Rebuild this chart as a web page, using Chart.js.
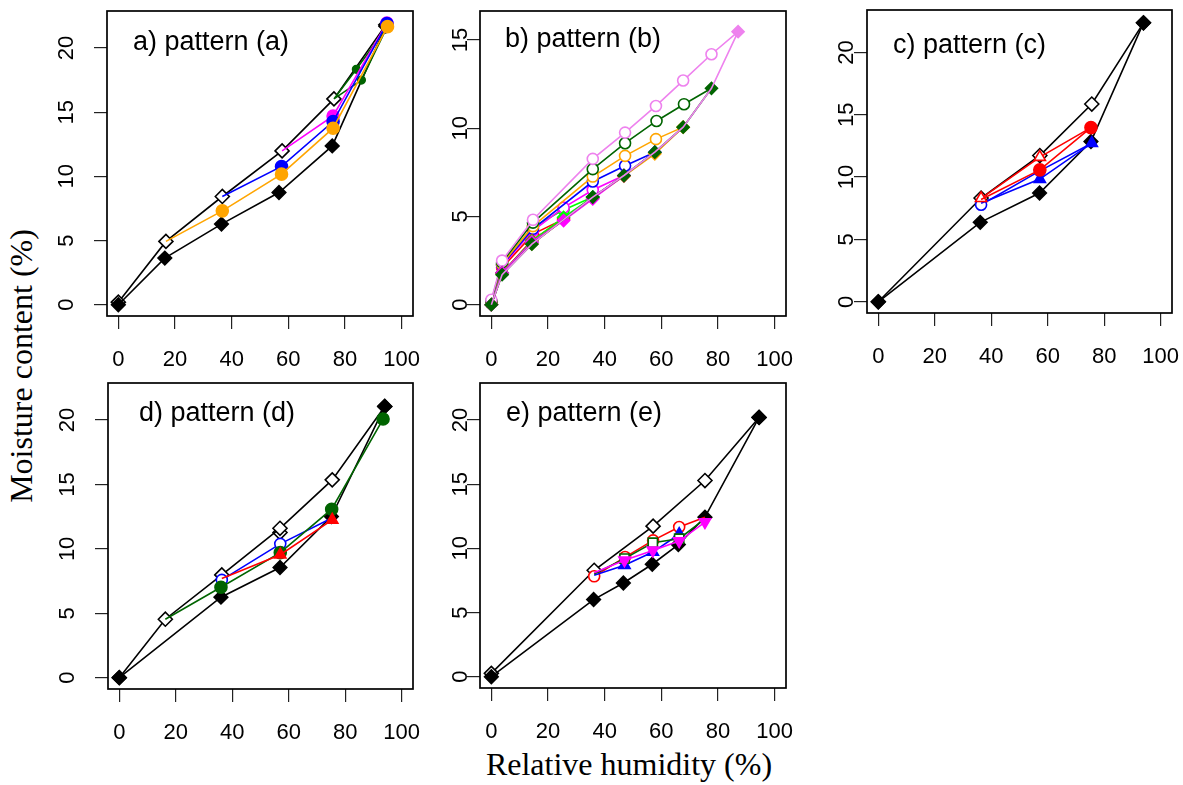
<!DOCTYPE html>
<html><head><meta charset="utf-8">
<script src="https://cdn.jsdelivr.net/npm/chart.js@4.4.1/dist/chart.umd.min.js"></script>
<style>
html,body{margin:0;padding:0;background:#fff;width:1183px;height:785px;overflow:hidden;position:relative}
.ttl{position:absolute;font-family:'Liberation Serif','Times New Roman',serif;font-size:32px;line-height:32px;white-space:nowrap;color:#000}
#ytitle{left:21px;top:366px;transform:translate(-50%,-50%) rotate(-90deg)}
#xtitle{left:629px;top:748px;transform:translateX(-50%)}
</style></head><body>
<div id="ytitle" class="ttl">Moisture content (%)</div>
<div id="xtitle" class="ttl">Relative humidity (%)</div>
<script>
// ---- tick labels ----
const xTicks = [0, 20, 40, 60, 80, 100];
const yTicks20 = [0, 5, 10, 15, 20];
const yTicks15 = [0, 5, 10, 15];
const panelTitles = ['a) pattern (a)', 'b) pattern (b)', 'c) pattern (c)', 'd) pattern (d)', 'e) pattern (e)'];

// ---- panel a : [RH %, moisture %] ----
const aAdsBlack = [[0,0],[16.4,3.63],[36.4,6.28],[56.7,8.74],[75.5,12.37],[94.4,21.7]];
const aDesBlack = [[94.4,21.8],[76.1,16.03],[57.8,11.98],[36.7,8.43],[16.8,4.93],[0,0.2]];
const aOrange = [[16.8,4.93],[36.7,7.31],[57.6,10.17],[75.8,13.75],[95,21.66]];
const aBlue = [[36.7,8.43],[57.6,10.77],[75.8,14.27],[94.8,21.9]];
const aMagenta = [[57.8,11.98],[75.8,14.7],[94.8,21.95]];
const aGreen = [[76.1,16.03],[85.8,17.5],[95,21.7],[84,18.34],[76.1,16.03]];

// ---- panel b ----
const bGreenAds = [[0,0],[3.8,1.7],[14.3,3.43],[35.8,6.1],[46.8,7.32],[57.7,8.64],[67.7,10.06],[77.7,12.26]];
const bVioletAds = [[0,0],[3.8,1.7],[14.3,3.43],[35.8,6.1],[46.8,7.32],[57.7,8.64],[67.7,10.06],[77.7,12.26],[87.1,15.47]];
const bOrangeAds = [[0,0],[3.8,1.75],[14.3,3.45],[35.8,6.05],[46.8,7.28],[57.7,8.55],[67.7,10.06]];
const bBlueAds = [[0,0],[3.8,1.8],[14.3,3.5],[35.8,6.1],[46.8,7.3],[57.7,8.64]];
const bMagentaAds = [[0,0],[3.8,1.8],[14.3,3.55],[25.5,4.77],[35.8,6.0],[46.8,7.32]];
const bLimeAds = [[0,0],[3.8,1.8],[14.3,3.6],[25.5,4.95],[35.8,6.1]];
const bRedAds = [[0,0],[3.8,1.8],[14.3,3.65],[25.5,4.85]];
const bVioletDes = [[87.1,15.47],[77.7,14.19],[67.7,12.7],[58.1,11.26],[47.2,9.75],[35.8,8.26],[14.7,4.81],[3.8,2.5],[0,0.28]];
const bGreenDes = [[77.7,12.26],[68,11.36],[58.3,10.41],[47.2,9.15],[35.8,7.68],[14.7,4.65],[3.8,2.4],[0,0.2]];
const bOrangeDes = [[67.7,10.06],[58.1,9.38],[47.2,8.43],[35.8,7.26],[14.7,4.45],[3.8,2.3],[0,0.1]];
const bBlueDes = [[57.7,8.64],[47.2,7.87],[35.8,6.98],[14.7,4.3],[3.8,2.25],[0,0.1]];
const bMagentaDes = [[46.8,7.32],[35.8,6.5],[25.5,5.5],[14.7,4.2],[3.8,2.2],[0,0.1]];
const bLimeDes = [[35.8,6.1],[25.5,5.37],[14.7,4.4],[3.8,2.3],[0,0.15]];
const bRedDes = [[25.5,4.85],[14.7,4.0],[3.8,2.1],[0,0.1]];

// ---- panel c ----
const cAdsBlack = [[0,0],[36.1,6.37],[57.1,8.72],[75.3,12.85],[93.9,22.37]];
const cDesBlack = [[93.9,22.37],[75.6,15.86],[57.2,11.73],[36.4,8.32],[0,0]];
const cRedUp = [[36.4,8.2],[57.2,10.58],[75.3,13.97]];
const cRedDown = [[75.3,13.97],[57.2,11.6],[36.4,8.3]];
const cBlueUp = [[36.4,7.9],[57.2,9.84],[75.6,12.72]];
const cBlueDown = [[75.6,12.72],[57.2,10.5],[36.4,7.78]];

// ---- panel d ----
const dAdsBlack = [[0,0],[36,6.25],[56.9,8.55],[75.1,12.51],[94,21.06]];
const dDesBlack = [[94,21.06],[75.4,15.36],[56.9,11.6],[36.3,7.98],[16.3,4.54],[0,0]];
const dExtraOpen = [[56.9,11.27]];
const dGreen = [[16.3,4.54],[36,7.02],[57,9.71],[75.2,13.08],[93.4,20.08]];
const dBlue = [[36.3,7.59],[57,10.39],[75.3,12.4]];
const dRed = [[36.3,7.7],[57,9.55],[75.4,12.25]];

// ---- panel e ----
const eAdsBlack = [[0,0],[36.1,6.01],[46.6,7.3],[56.8,8.76],[66,10.29],[75.4,12.43],[94.5,20.2]];
const eDesBlack = [[94.5,20.2],[75.4,15.28],[57.1,11.73],[36.3,8.29],[0,0.26]];
const eRed = [[36.3,7.82],[47.2,9.32],[57.1,10.62],[66.3,11.66],[75.4,12.43]];
const eGreen = [[36.3,8.0],[47,9.2],[57,10.44],[66.3,10.75],[75.4,12.3]];
const eBlue = [[36.3,7.9],[47,8.68],[57,9.71],[66.3,11.1]];
const eMagenta = [[36.3,8.1],[47,9.07],[57,9.84],[66.3,10.57],[75.4,12.05]];

// ---- colours ----
const C = {black:'#000000', orange:'#FFA500', blue:'#0000FF', magenta:'#FF00FF', dkgreen:'#006400',
           violet:'#EE82EE', lime:'#00FF00', red:'#FF0000'};

function series(arr, color, style, o = {}) {
  const filled = o.filled !== false;
  const r = o.r || 5.5;
  const n = arr.length;
  return {
    data: arr.map(p => ({x: p[0], y: p[1]})),
    showLine: o.noLine ? false : true, tension: 0,
    borderColor: color, backgroundColor: color, borderWidth: 1.6,
    pointStyle: style, pointRotation: o.rot || 0,
    pointRadius: (c) => {
      const i = c.dataIndex;
      if (i === undefined) return r;
      if (o.hideFirst && i === 0) return 0;
      if (o.hideLast && i === n - 1) return 0;
      if (o.from !== undefined && i < o.from) return 0;
      return r;
    },
    pointHoverRadius: 0,
    pointBackgroundColor: filled ? color : '#ffffff',
    pointBorderColor: color,
    pointBorderWidth: 1.6
  };
}

const TICKFAMILY = "'Liberation Sans', Arial, sans-serif";

const panelDeco = {
  id: 'panelDeco',
  afterDraw(chart, args, o) {
    const {ctx, chartArea: a} = chart;
    ctx.save();
    ctx.strokeStyle = '#000'; ctx.lineWidth = 1.7;
    ctx.strokeRect(a.left, a.top, a.right - a.left, a.bottom - a.top);
    // panel label
    ctx.fillStyle = '#000';
    ctx.font = "27px " + TICKFAMILY;
    ctx.textAlign = 'left'; ctx.textBaseline = 'alphabetic';
    ctx.fillText(o.text, a.left + o.dx, a.top + o.dy);
    // rotated y tick labels (R style, reading upward)
    const ys = chart.scales.y;
    ctx.font = "22px " + TICKFAMILY;
    ctx.textAlign = 'center'; ctx.textBaseline = 'middle';
    for (const t of ys.ticks) {
      const py = ys.getPixelForValue(t.value);
      ctx.save();
      ctx.translate(a.left - o.yLab, py);
      ctx.rotate(-Math.PI / 2);
      ctx.fillText(t.label !== undefined ? String(t.label) : String(t.value), 0, 0);
      ctx.restore();
    }
    ctx.restore();
  }
};

const TICKFONT = {family: TICKFAMILY, size: 22};

function makePanel(box, datasets, yMin, yMax, yTicks, yLab, title, dx, dy) {
  const LW = 75, TP = 12, RP = 28, BH = 62;
  const cv = document.createElement('canvas');
  cv.width = box.W + LW + RP; cv.height = box.H + TP + BH;
  cv.style.cssText = `position:absolute;left:${box.L - LW}px;top:${box.T - TP}px;width:${cv.width}px;height:${cv.height}px`;
  document.body.appendChild(cv);
  new Chart(cv, {
    type: 'scatter',
    data: {datasets},
    options: {
      responsive: false, animation: false, devicePixelRatio: 1,
      layout: {padding: {left: 0, top: TP, right: RP, bottom: 0}},
      plugins: {legend: {display: false}, tooltip: {enabled: false}, panelDeco: {text: title, dx, dy, yLab}},
      scales: {
        x: {
          type: 'linear', position: 'bottom', min: -4, max: 104,
          afterBuildTicks: s => { s.ticks = xTicks.map(v => ({value: v})); },
          afterFit: s => { s.height = BH; s.paddingLeft = 0; s.paddingRight = 0; },
          grid: {display: true, drawOnChartArea: false, drawTicks: true, tickLength: 13, color: '#222', lineWidth: 1.2},
          border: {display: false},
          ticks: {font: TICKFONT, color: '#000', padding: 18, minRotation: 0, maxRotation: 0, autoSkip: false}
        },
        y: {
          type: 'linear', position: 'left', min: yMin, max: yMax,
          afterBuildTicks: s => { s.ticks = yTicks.map(v => ({value: v})); },
          afterFit: s => { s.width = LW; s.paddingTop = 0; s.paddingBottom = 0; },
          grid: {display: true, drawOnChartArea: false, drawTicks: true, tickLength: 13, color: '#222', lineWidth: 1.2},
          border: {display: false},
          ticks: {display: false, font: TICKFONT, autoSkip: false}
        }
      }
    },
    plugins: [panelDeco]
  });
}

// panel a
makePanel({L:107, T:11, W:306, H:305}, [
  series(aOrange, C.orange, 'circle', {hideFirst: true, r: 6}),
  series(aBlue, C.blue, 'circle', {hideFirst: true, r: 6}),
  series(aMagenta, C.magenta, 'circle', {hideFirst: true, r: 6}),
  series(aGreen, C.dkgreen, 'circle', {hideFirst: true, hideLast: true, r: 3.8}),
  series(aAdsBlack, C.black, 'rectRot', {r: 6.8}),
  series(aDesBlack, C.black, 'rectRot', {filled: false, r: 7})
], -0.88, 22.88, yTicks20, 40, panelTitles[0], 26, 38.5);

// panel b
makePanel({L:480, T:11, W:306, H:305}, [
  series(bVioletAds, C.violet, 'rectRot', {r: 6, from: 8}),
  series(bGreenAds, C.dkgreen, 'rectRot', {r: 6}),
  series(bMagentaAds, C.magenta, 'rectRot', {r: 6}),
  series(bLimeAds, C.lime, 'rectRot', {r: 6}),
  series(bRedAds, C.red, 'rectRot', {r: 6}),
  series(bOrangeAds, C.orange, 'rectRot', {r: 6}),
  series(bBlueAds, C.blue, 'rectRot', {r: 6}),
  series(bVioletDes, C.violet, 'circle', {filled: false, hideFirst: true}),
  series(bGreenDes, C.dkgreen, 'circle', {filled: false, hideFirst: true}),
  series(bOrangeDes, C.orange, 'circle', {filled: false, hideFirst: true}),
  series(bBlueDes, C.blue, 'circle', {filled: false, hideFirst: true}),
  series(bMagentaDes, C.magenta, 'circle', {filled: false, hideFirst: true}),
  series(bLimeDes, C.lime, 'circle', {filled: false, hideFirst: true}),
  series(bRedDes, C.red, 'circle', {filled: false, hideFirst: true})
], -0.64, 16.64, yTicks15, 19, panelTitles[1], 25, 36);

// panel c
makePanel({L:867, T:10, W:305, H:303}, [
  series(cRedUp, C.red, 'circle', {hideFirst: true, r: 6}),
  series(cRedDown, C.red, 'triangle', {filled: false, hideFirst: true, r: 6.5}),
  series(cBlueUp, C.blue, 'triangle', {hideFirst: true, r: 6.5}),
  series(cBlueDown, C.blue, 'circle', {filled: false, hideFirst: true}),
  series(cAdsBlack, C.black, 'rectRot', {r: 6.8}),
  series(cDesBlack, C.black, 'rectRot', {filled: false, r: 7})
], -0.9, 23.4, yTicks20, 20, panelTitles[2], 26, 43);

// panel d
makePanel({L:108, T:383, W:305, H:306}, [
  series(dRed, C.red, 'triangle', {hideFirst: true, r: 6.5}),
  series(dGreen, C.dkgreen, 'circle', {hideFirst: true, r: 6}),
  series(dBlue, C.blue, 'circle', {filled: false, hideLast: true}),
  series(dAdsBlack, C.black, 'rectRot', {r: 6.8}),
  series(dDesBlack, C.black, 'rectRot', {filled: false, r: 7}),
  series(dExtraOpen, C.black, 'rectRot', {filled: false, r: 7, noLine: true})
], -0.88, 22.88, yTicks20, 40, panelTitles[3], 31, 38);

// panel e
makePanel({L:480, T:383, W:306, H:305}, [
  series(eMagenta, C.magenta, 'triangle', {hideFirst: true, r: 6.5, rot: 180}),
  series(eGreen, C.dkgreen, 'rect', {filled: false, hideFirst: true, hideLast: true, r: 6.5}),
  series(eBlue, C.blue, 'triangle', {hideFirst: true, r: 6.5}),
  series(eRed, C.red, 'circle', {filled: false, hideLast: true}),
  series(eAdsBlack, C.black, 'rectRot', {r: 6.8}),
  series(eDesBlack, C.black, 'rectRot', {filled: false, r: 7})
], -0.88, 22.88, yTicks20, 19, panelTitles[4], 26, 38);
</script>
</body></html>
